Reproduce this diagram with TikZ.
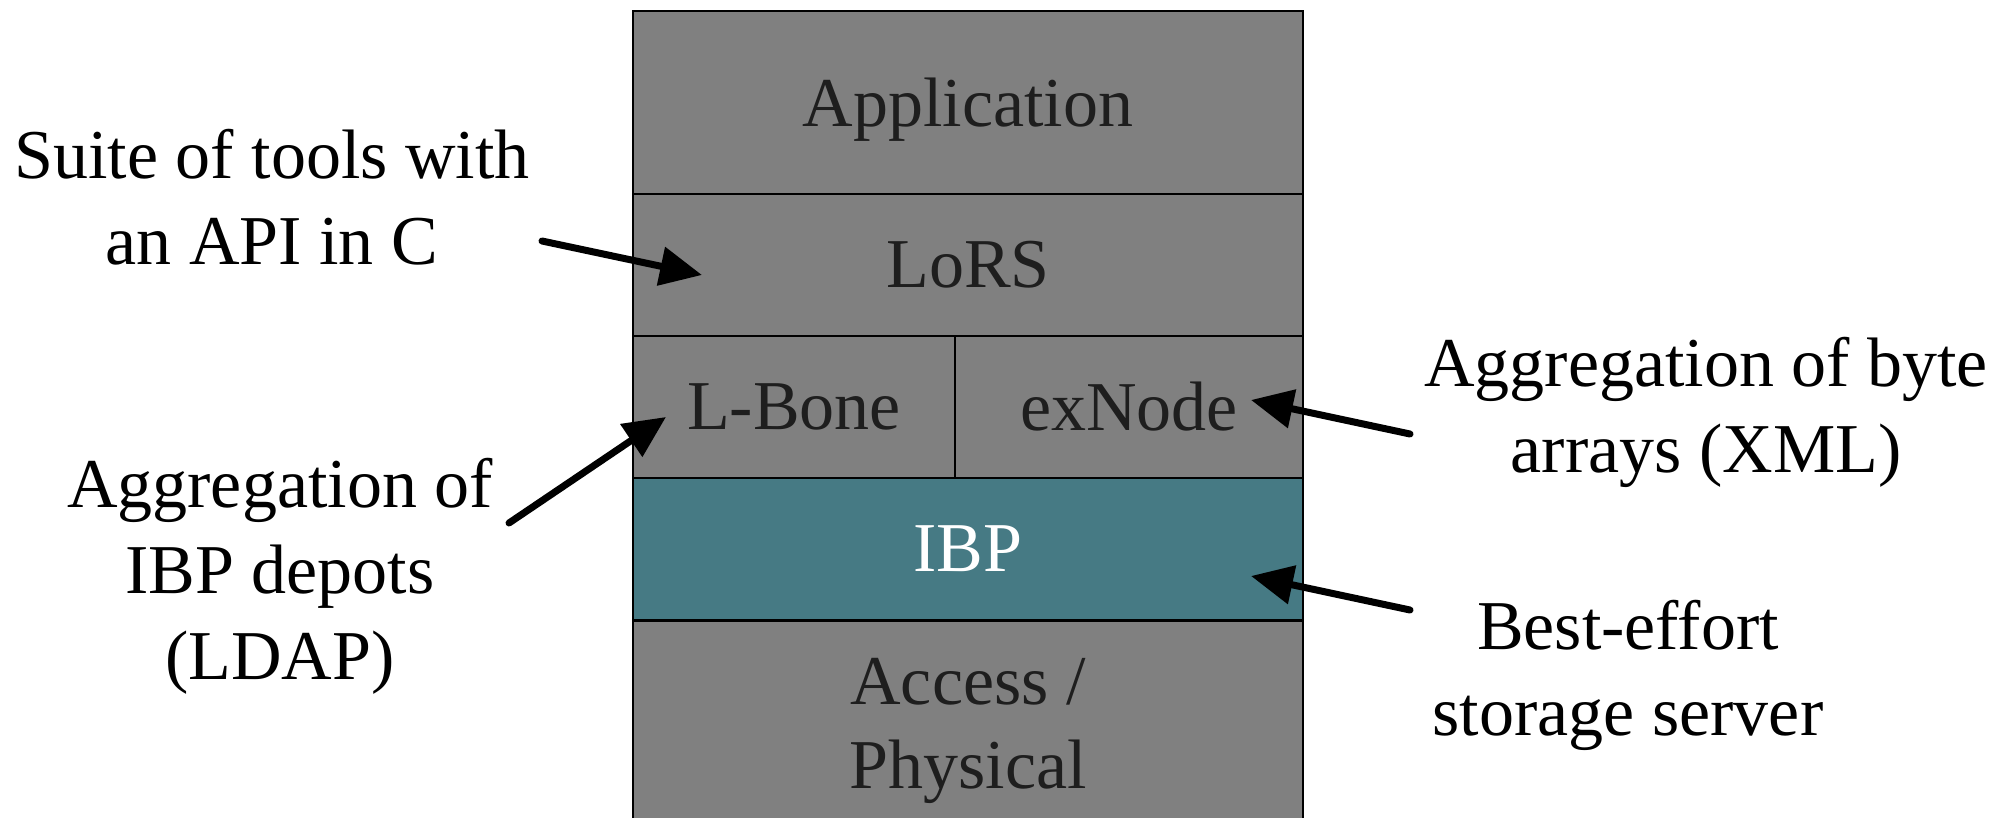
\documentclass[tikz,border=0pt]{standalone}
\usepackage{fontspec}
\setmainfont{Liberation Serif}
\usetikzlibrary{arrows.meta}
\definecolor{layergray}{HTML}{808080}
\definecolor{ibpteal}{HTML}{467A84}
\definecolor{labeltext}{HTML}{1E1E1E}
\begin{document}
\begin{tikzpicture}[x=0.5pt,y=-0.5pt,
  layer/.style={draw=black, line width=1pt, fill=layergray, text=labeltext,
    font=\fontsize{35}{42}\selectfont, inner sep=0pt, outer sep=0pt, align=center},
  note/.style={font=\fontsize{35}{43}\selectfont, align=center, text=black},
  pointer/.style={line width=3.5pt, line cap=round, -{Triangle[length=21pt,width=19pt]}}]
\useasboundingbox (0,0) rectangle (2001,818);
\fill[white] (0,0) rectangle (2001,818);
\clip (0,0) rectangle (2001,818);
% layer stack
\node[layer, text depth=0pt, minimum width=335pt, minimum height=91.5pt] (app) at (968,102.5) {Application};
\node[layer, minimum width=335pt, minimum height=71pt] (lors) at (968,265) {LoRS};
\node[layer, minimum width=161pt, minimum height=71pt] (lbone) at (794,407) {L-Bone};
\node[layer, minimum width=174pt, minimum height=71pt] (exnode) at (1129,407) {exNode};
\node[layer, fill=ibpteal, text=white, minimum width=335pt, minimum height=71pt] (ibp) at (968,549) {IBP};
\node[layer, minimum width=335pt, minimum height=110pt] (access) at (968,731) {Access /\\Physical};
% notes
\node[note] (suite) at (272,197) {Suite of tools with\\an API in C};
\node[note] (lbonenote) at (280,576) {Aggregation of\\IBP depots\\(LDAP)};
\node[note] (xmlnote) at (1706,412) {Aggregation of byte\\arrays (XML)};
\node[note] (besteffort) at (1628,675) {Best-effort\\storage server};
% arrows
\coordinate (t1) at (542,241); \coordinate (h1) at (702,275);
\coordinate (t2) at (509,523); \coordinate (h2) at (666,417);
\coordinate (t3) at (1410,434); \coordinate (h3) at (1251,400);
\coordinate (t4) at (1410,610); \coordinate (h4) at (1251,576);
\draw[pointer] (t1) -- (h1);
\draw[pointer] (t2) -- (h2);
\draw[pointer] (t3) -- (h3);
\draw[pointer] (t4) -- (h4);
\end{tikzpicture}
\end{document}
